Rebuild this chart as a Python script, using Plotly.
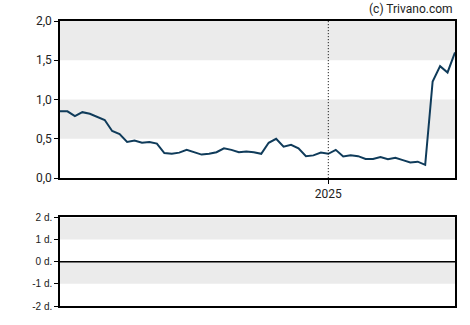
import plotly.graph_objects as go
from plotly.subplots import make_subplots
import pandas as pd

dates = pd.date_range("2024-04-24", periods=54, freq="7D")
prices = [0.85, 0.85, 0.79, 0.84, 0.82, 0.775, 0.74, 0.60, 0.56, 0.46,
          0.48, 0.45, 0.46, 0.44, 0.32, 0.31, 0.325, 0.36, 0.325, 0.30,
          0.31, 0.33, 0.38, 0.36, 0.33, 0.34, 0.33, 0.31, 0.45, 0.50,
          0.40, 0.425, 0.38, 0.28, 0.29, 0.325, 0.31, 0.36, 0.275, 0.29,
          0.28, 0.245, 0.245, 0.27, 0.24, 0.26, 0.23, 0.20, 0.21, 0.17,
          1.23, 1.425, 1.345, 1.60]
top_ticks = [0, 0.5, 1.0, 1.5, 2.0]
bot_ticks = [-2, -1, 0, 1, 2]
bot_labels = ["-2 d.", "-1 d.", "0 d.", "1 d.", "2 d."]
year_tick = "2025-01-01"

# plot area geometry (pixels)
T, B = 20.5, 14.7
H = 325 - T - B
top_dom = [(325 - B - 180.3) / H, 1]
bot_dom = [0, (325 - B - 220.3) / H]

fig = make_subplots(rows=2, cols=1, shared_xaxes=False, vertical_spacing=0)
x0, x1 = dates[0], dates[-1]
band = "#ebebeb"

for lo, hi in [(0.5, 1.0), (1.5, 2.0)]:
    fig.add_shape(type="rect", xref="x", yref="y", x0=x0, x1=x1, y0=lo, y1=hi,
                  fillcolor=band, line_width=0, layer="below")
for lo, hi in [(1, 2), (-1, 0)]:
    fig.add_shape(type="rect", xref="x2", yref="y2", x0=x0, x1=x1, y0=lo, y1=hi,
                  fillcolor=band, line_width=0, layer="below")
fig.add_shape(type="line", xref="x2", yref="y2", x0=x0, x1=x1, y0=0, y1=0,
              line=dict(color="black", width=1.5))
fig.add_shape(type="line", xref="x", yref="paper", x0=year_tick, x1=year_tick,
              y0=top_dom[0], y1=1, line=dict(color="black", width=1, dash="1px,2px"))

fig.add_trace(go.Scatter(x=dates, y=prices, mode="lines",
                         line=dict(color="#0f3b5a", width=2), hoverinfo="skip"),
              row=1, col=1)
fig.add_trace(go.Scatter(x=[x0, x1], y=[None, None], mode="lines", showlegend=False),
              row=2, col=1)

axfont = dict(family="Roboto, Arial, sans-serif", size=12, color="#222")
fig.update_layout(
    width=470, height=325, showlegend=False,
    margin=dict(l=60, r=15, t=T, b=B),
    plot_bgcolor="white", paper_bgcolor="white",
    separators=",.",
    xaxis=dict(domain=[0, 1], range=[x0, x1], showgrid=False, showline=True,
               linecolor="black", linewidth=1.5, mirror=True, ticks="outside",
               ticklen=4, tickcolor="black", tickvals=[year_tick], ticktext=["2025"],
               tickfont=axfont, zeroline=False),
    yaxis=dict(domain=top_dom, range=[0, 2], showgrid=False, showline=True,
               linecolor="black", linewidth=1.5, mirror=True, ticks="outside",
               ticklen=4, tickcolor="black", tickvals=top_ticks, tickformat=".1f",
               tickfont=axfont, zeroline=False),
    xaxis2=dict(domain=[0, 1], range=[x0, x1], showgrid=False, showline=True,
                linecolor="black", linewidth=1.5, mirror=True, ticks="",
                showticklabels=False, zeroline=False),
    yaxis2=dict(domain=bot_dom, range=[-2, 2], showgrid=False, showline=True,
                linecolor="black", linewidth=1.5, mirror=True, ticks="outside",
                ticklen=4, tickcolor="black", tickvals=bot_ticks, ticktext=bot_labels,
                tickfont=dict(family="Arial, Liberation Sans, sans-serif", size=10, color="#222"),
                zeroline=False),
)
fig.add_annotation(xref="paper", yref="paper", x=1, y=1, yshift=3, xanchor="right",
                   yanchor="bottom", text="(c) Trivano.com", showarrow=False,
                   font=dict(family="Roboto, Arial, sans-serif", size=12, color="#222"))

fig.write_html("out.html")
